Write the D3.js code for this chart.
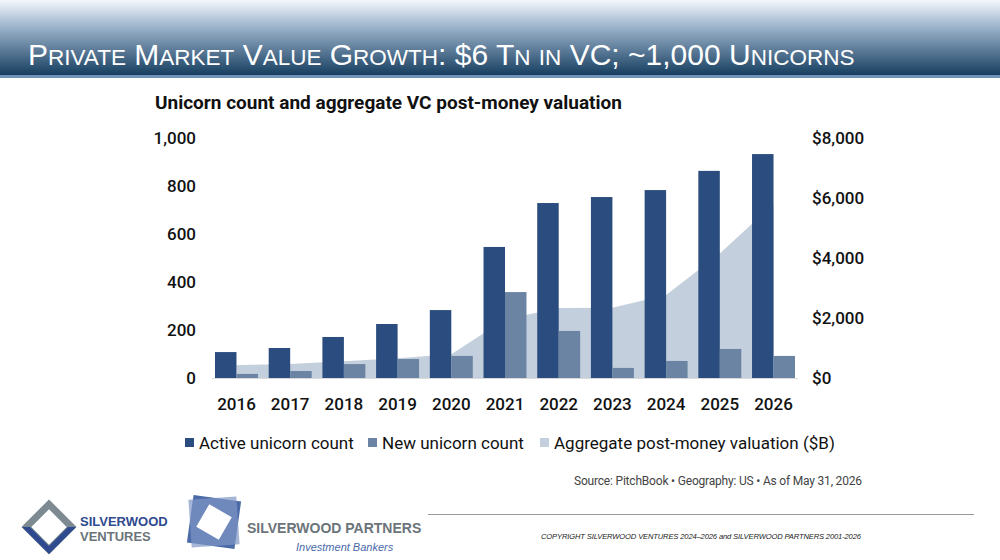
<!DOCTYPE html>
<html><head><meta charset="utf-8">
<script src="https://cdn.jsdelivr.net/npm/d3@7"></script>
<style>body{margin:0;background:#fff}svg{display:block}</style>
</head><body><div class="chart"></div>
<script>
const years=[2016,2017,2018,2019,2020,2021,2022,2023,2024,2025,2026]
const activeCount=[108,125,171,225,283,546,729,754,783,863,933]
const newCount=[17,29,58,79,92,358,196,42,71,121,92]
const valuation=[430,470,560,660,790,1950,2330,2340,2770,4150,5800]
const leftTicks=[0,200,400,600,800,1000]
const rightTicks=[0,2000,4000,6000,8000]

const svg=d3.select('.chart').append('svg').attr('width',1000).attr('height',560)
const defs=svg.append('defs')
const grad=defs.append('linearGradient').attr('id','hdr').attr('x1',0).attr('y1',0).attr('x2',0).attr('y2',1)
grad.append('stop').attr('offset','0%').attr('stop-color','#f4f7fb')
grad.append('stop').attr('offset','35%').attr('stop-color','#9db4cc')
grad.append('stop').attr('offset','100%').attr('stop-color','#143c5e')
svg.append('rect').attr('width',1000).attr('height',76).attr('fill','url(#hdr)')
svg.append('rect').attr('y',75).attr('width',1000).attr('height',3).attr('fill','#6f93b8')

// header in small caps: lowercase letters drawn smaller as capitals
const big=30, small=22.5
const hdr=svg.append('text').attr('x',28).attr('y',65).attr('fill','#fff')
	.attr('font-family','Liberation Sans, Arial, sans-serif')
const title='Private Market Value Growth: $6 Tn in VC; ~1,000 Unicorns'
let run='', runLower=null
const flush=()=>{ if(run) hdr.append('tspan').attr('font-size',runLower?small:big).text(runLower?run.toUpperCase():run); run='' }
for(const ch of title){
	const low=(ch!==ch.toUpperCase())
	if(runLower!==null && low!==runLower) flush()
	runLower=low; run+=ch
}
flush()

svg.append('text').attr('x',155).attr('y',109).attr('font-family','Roboto, sans-serif')
	.attr('font-weight',700).attr('font-size',19).attr('fill','#111')
	.text('Unicorn count and aggregate VC post-money valuation')

const x0=d3.scaleBand().domain(years).range([215,795]).paddingInner(0.2).paddingOuter(0)
const x1=d3.scaleBand().domain(['a','n']).range([0,x0.bandwidth()])
const y=d3.scaleLinear().domain([0,1000]).range([378,138])
const yR=d3.scaleLinear().domain([0,8000]).range([378,138])

const vals=years.map((yr,i)=>({yr,v:valuation[i]}))
svg.append('path').datum(vals)
	.attr('fill','#c3cfdc')
	.attr('d',d3.area().x(d=>x0(d.yr)+x0.bandwidth()/2).y0(yR(0)).y1(d=>yR(d.v)))

const g=svg.append('g')
years.forEach((yr,i)=>{
	g.append('rect').attr('x',x0(yr)+x1('a')).attr('width',x1.bandwidth())
		.attr('y',y(activeCount[i])).attr('height',y(0)-y(activeCount[i])).attr('fill','#2b4c7e')
	g.append('rect').attr('x',x0(yr)+x1('n')).attr('width',x1.bandwidth())
		.attr('y',y(newCount[i])).attr('height',y(0)-y(newCount[i])).attr('fill','#6b84a3')
})
svg.append('line').attr('x1',212).attr('x2',798).attr('y1',378.5).attr('y2',378.5).attr('stroke','#d9d9d9')

const font='Roboto, sans-serif'
const yAx=svg.append('g').attr('transform','translate(196,0)')
	.call(d3.axisLeft(y).tickValues(leftTicks).tickSize(0).tickPadding(0).tickFormat(d3.format(',')))
const yAxR=svg.append('g').attr('transform','translate(812,0)')
	.call(d3.axisRight(yR).tickValues(rightTicks).tickSize(0).tickPadding(0).tickFormat(d=>'$'+d3.format(',')(d)))
const xAx=svg.append('g').attr('transform','translate(0,396)')
	.call(d3.axisBottom(x0).tickSize(0).tickPadding(0))
;[yAx,yAxR,xAx].forEach(a=>{
	a.select('.domain').remove()
	a.selectAll('text').attr('font-family',font).attr('font-weight',500).attr('font-size',17).attr('fill','#111')
})
yAx.selectAll('text').attr('dy','0.35em')
xAx.selectAll('text').attr('dy','0.8em')

const legend=[['Active unicorn count','#2b4c7e',185],['New unicorn count','#6b84a3',368],['Aggregate post-money valuation ($B)','#c3cfdc',540]]
legend.forEach(l=>{
	svg.append('rect').attr('x',l[2]).attr('y',438).attr('width',9).attr('height',9).attr('fill',l[1])
	svg.append('text').attr('x',l[2]+14).attr('y',449).attr('font-family',font).attr('font-size',17)
		.attr('fill','#111').text(l[0])
})
svg.append('text').attr('x',574).attr('y',485).attr('font-family',font).attr('font-size',12)
	.attr('fill','#444').attr('textLength',288).text('Source: PitchBook  •  Geography: US  •  As of May 31, 2026')
svg.append('line').attr('x1',428).attr('x2',974).attr('y1',514.5).attr('y2',514.5).attr('stroke','#999')
svg.append('text').attr('x',541).attr('y',539).attr('font-family','Liberation Sans, Arial, sans-serif')
	.attr('font-style','italic').attr('font-size',7.6).attr('fill','#222').attr('textLength',320)
	.text('COPYRIGHT SILVERWOOD VENTURES 2024–2026 and SILVERWOOD PARTNERS 2001-2026')

// logos
const lg=svg.append('g').attr('transform','translate(49,527)')
lg.append('rect').attr('x',-16).attr('y',-16).attr('width',32).attr('height',32).attr('transform','rotate(45)')
	.attr('fill','none').attr('stroke','#7d8a92').attr('stroke-width',7)
lg.append('path').attr('d','M-27,0 L0,27 L27,0 L19,0 L0,19 L-19,0 Z').attr('fill','#2f4a8f')
svg.append('text').attr('x',80).attr('y',526).attr('font-family','Liberation Sans, Arial, sans-serif')
	.attr('font-weight',700).attr('font-size',13).attr('fill','#2f4a8f').text('SILVERWOOD')
svg.append('text').attr('x',80).attr('y',541).attr('font-family','Liberation Sans, Arial, sans-serif')
	.attr('font-weight',700).attr('font-size',13).attr('fill','#6b747a').text('VENTURES')

const lg2=svg.append('g').attr('transform','translate(214,522)')
lg2.append('rect').attr('x',-24).attr('y',-24).attr('width',48).attr('height',48).attr('transform','rotate(8)').attr('fill','#4a6aa8')
lg2.append('rect').attr('x',-24).attr('y',-24).attr('width',48).attr('height',48).attr('transform','rotate(-4)').attr('fill','#7f97c4').attr('opacity',0.7)
lg2.append('rect').attr('x',-13).attr('y',-13).attr('width',26).attr('height',26).attr('transform','rotate(30)').attr('fill','#fff')
svg.append('text').attr('x',247).attr('y',533).attr('font-family','Liberation Sans, Arial, sans-serif')
	.attr('font-weight',700).attr('font-size',14).attr('fill','#6b747a').text('SILVERWOOD PARTNERS')
svg.append('text').attr('x',296).attr('y',551).attr('font-family','Liberation Sans, Arial, sans-serif')
	.attr('font-style','italic').attr('font-size',11).attr('fill','#4a6aa8').text('Investment Bankers')
</script></body></html>
